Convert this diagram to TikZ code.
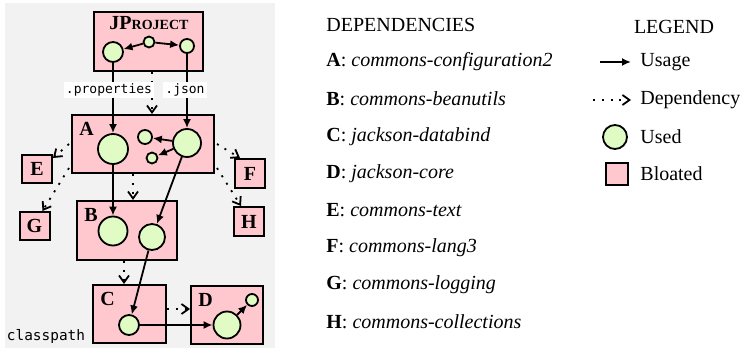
\documentclass[tikz,border=0pt]{standalone}
\usepackage{fontspec}
\setmainfont{Liberation Serif}
\setmonofont{DejaVu Sans Mono}
\usepackage{xcolor}
\usepackage{tikz}
\usetikzlibrary{positioning,arrows.meta}

\definecolor{bloatpink}{HTML}{FFC8CE}
\definecolor{usedgreen}{HTML}{E0FCC4}
\definecolor{panelgray}{HTML}{F2F2F2}

\begin{document}
\begin{tikzpicture}[x=0.5pt,y=-0.5pt,
    pkg/.style={draw,line width=1pt,fill=bloatpink,inner sep=0pt},
    cls/.style={draw,circle,line width=0.9pt,fill=usedgreen,inner sep=0pt},
    tag/.style={anchor=north west,inner sep=4pt,font=\bfseries},
    usage/.style={-{Latex[length=4.5pt,width=4pt]},line width=0.9pt},
    depend/.style={-{Straight Barb[length=3.5pt,width=5pt]},dash pattern=on 1pt off 3.4pt,line width=0.9pt},
    ext/.style={fill=white,inner sep=1pt,font=\ttfamily\fontsize{6.5}{7}\selectfont},
    item/.style={anchor=west,inner sep=0pt}]

    \useasboundingbox (0,0) rectangle (749,357);
    \fill[panelgray] (5,3) rectangle (275,348);

    % project
    \node[pkg,minimum width=54.5pt,minimum height=29.5pt] (jp) at (148.5,41.5) {};
    \node (jptitle) at (149,23) {\bfseries JP{\fontsize{7}{8}\selectfont ROJECT}};
    \node[cls,minimum size=10pt] (jpL) at (113,52) {};
    \node[cls,minimum size=5.5pt] (jpM) at (149,42) {};
    \node[cls,minimum size=7pt] (jpR) at (187,46) {};

    % dependencies
    \node[pkg,minimum width=71pt,minimum height=29pt] (A) at (143,144) {};
    \node[tag] at (A.north west) {A};
    \node[cls,minimum size=15pt] (aL) at (113,149) {};
    \node[cls,minimum size=7pt] (aS) at (145,137) {};
    \node[cls,minimum size=5.5pt] (aT) at (152,158) {};
    \node[cls,minimum size=14pt] (aR) at (187,143) {};

    \node[pkg,minimum width=50pt,minimum height=29.5pt] (B) at (127,230.5) {};
    \node[tag] at (B.north west) {B};
    \node[cls,minimum size=14.5pt] (bL) at (113,231) {};
    \node[cls,minimum size=13pt] (bR) at (152,237) {};

    \node[pkg,minimum width=36.5pt,minimum height=29pt] (C) at (129.5,314) {};
    \node[tag] at (C.north west) {C};
    \node[cls,minimum size=10pt] (cM) at (129,325) {};

    \node[pkg,minimum width=36pt,minimum height=29pt] (D) at (227,315) {};
    \node[tag] at (D.north west) {D};
    \node[cls,minimum size=13.5pt] (dL) at (227,325) {};
    \node[cls,minimum size=6pt] (dS) at (252,300) {};

    \node[pkg,minimum width=15pt,minimum height=14pt,font=\bfseries] (E) at (37,169) {E};
    \node[pkg,minimum width=15pt,minimum height=14pt,font=\bfseries] (G) at (34.5,226) {G};
    \node[pkg,minimum width=15pt,minimum height=14.5pt,font=\bfseries] (F) at (250,173.5) {F};
    \node[pkg,minimum width=15pt,minimum height=14.5pt,font=\bfseries] (H) at (249,221.5) {H};

    \node[font=\ttfamily\fontsize{7.2}{8}\selectfont,inner sep=0pt] (cp) at (46,336) {classpath};

    % dependency edges
    \draw[depend] ([xshift=1.75pt]jp.south) -- ([xshift=1.75pt]jp.south |- A.north);
    \draw[depend] ([xshift=-5pt]A.south) -- ([xshift=-5pt]A.south |- B.north);
    \draw[depend] ([xshift=-1.5pt]B.south) -- ([xshift=-1.5pt]B.south |- C.north);
    \draw[depend] ([yshift=2.5pt]C.east) -- ([yshift=2.5pt]C.east -| D.west);
    \draw[depend] ([xshift=-1pt]A.west) -- ([yshift=-2pt]E.north east);
    \draw[depend] ([xshift=-1pt,yshift=-12pt]A.west) -- ([xshift=4pt]G.north);
    \draw[depend] ([xshift=1pt]A.east) -- ([xshift=3pt]F.north west);
    \draw[depend] ([xshift=1pt,yshift=-12pt]A.east) -- ([xshift=-4pt]H.north);

    % usage edges
    \draw[usage] (jpM) -- (jpL);
    \draw[usage] (jpM) -- (jpR);
    \draw[usage] (jpL) -- (aL);
    \draw[usage] (jpR) -- (aR);
    \node[ext] (props) at (109,90) {.properties};
    \node[ext] (json) at (185,90) {.json};
    \draw[usage] (aR) -- (aS);
    \draw[usage] (aR) -- (aT);
    \draw[usage] (aL) -- (bL);
    \draw[usage] (aR) -- (bR);
    \draw[usage] (bR) -- (cM);
    \draw[usage] (cM) -- (dL);
    \draw[usage] (dL) -- (dS);

    % list
    \node[item] (deptitle) at (326,25) {DEPENDENCIES};
    \foreach \k/\lib [count=\i] in {A/commons-configuration2,B/commons-beanutils,
        C/jackson-databind,D/jackson-core,E/commons-text,F/commons-lang3,
        G/commons-logging,H/commons-collections}
        \node[item] (lib\k) at (326,{62+37.1*(\i-1)}) {\textbf{\k}: \textit{\lib}};

    % legend
    \node (legtitle) at (674,27) {LEGEND};
    \node[item] (legUsage) at (640,62) {Usage};
    \coordinate (legUsageFrom) at (600,62);
    \draw[usage] (legUsageFrom) -- (legUsage.west -| 631,0);
    \node[item] (legDep) at (640,100) {Dependency};
    \coordinate (legDepFrom) at (593,100);
    \draw[depend] (legDepFrom) -- (legDep.west -| 631,0);
    \node[cls,minimum size=12pt] (legUsed) at (615,137) {};
    \node[item] at (640,137) {Used};
    \node[pkg,minimum size=11pt] (legBloat) at (617,174) {};
    \node[item] at (640,174) {Bloated};
\end{tikzpicture}
\end{document}
